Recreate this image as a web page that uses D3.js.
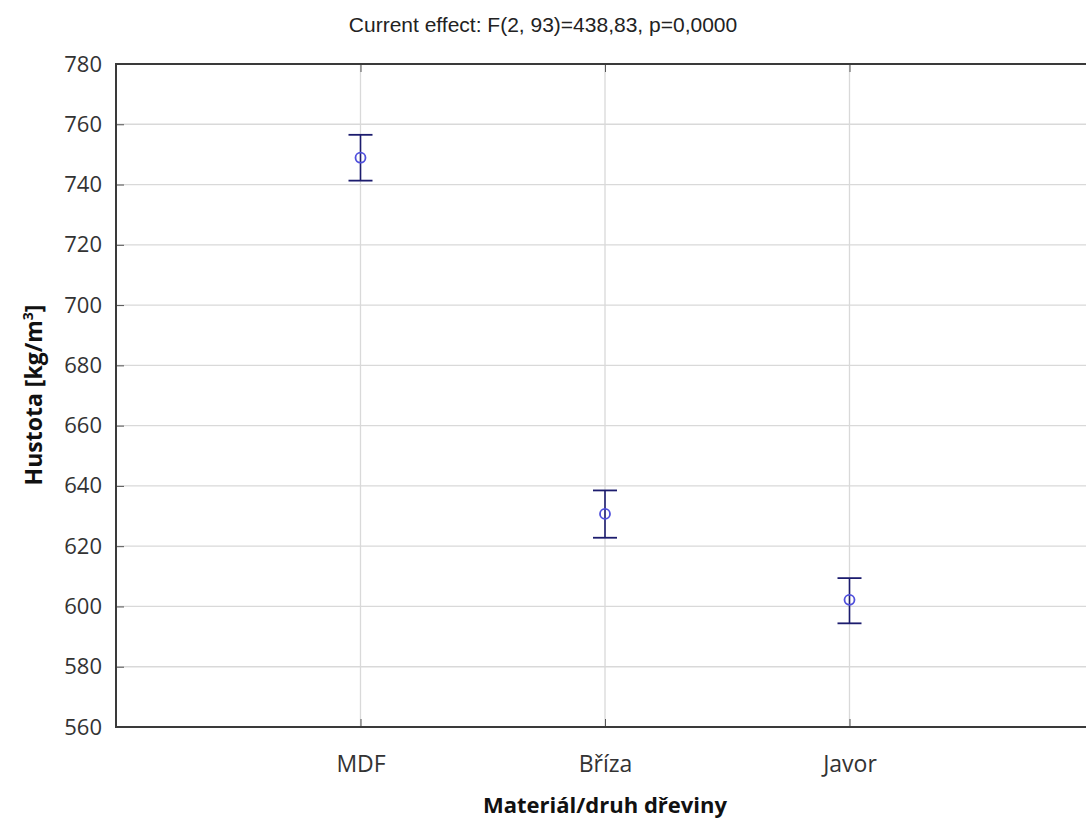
<!DOCTYPE html>
<html>
<head>
<style>
body { margin: 0; background: #fff; }
svg { display: block; }
</style>
</head>
<body>
<div id="chart"></div>
<script src="https://d3js.org/d3.v7.min.js"></script>
<script>
// data
var categories = ["MDF", "Bříza", "Javor"]
var means = [748.9, 630.7, 602.2]
var upper = [756.5, 638.5, 609.4]
var lower = [741.3, 622.8, 594.4]
var yTicks = [560, 580, 600, 620, 640, 660, 680, 700, 720, 740, 760, 780]

var width = 1086, height = 822
var margin = {top: 64, left: 116, bottom: 95}
var plotRight = 1094   // frame runs past the right edge of the picture

var svg = d3.select("#chart").append("svg")
  .attr("width", width)
  .attr("height", height)

var x = d3.scaleLinear().domain([0, 4]).range([margin.left, plotRight])
var y = d3.scaleLinear().domain([560, 780]).range([height - margin.bottom, margin.top])

// grid
svg.append("g").selectAll("line.h")
  .data(yTicks.slice(1, -1)).enter().append("line")
  .attr("x1", margin.left).attr("x2", width)
  .attr("y1", d => y(d)).attr("y2", d => y(d))
  .attr("stroke", "#d9d9d9").attr("stroke-width", 1.3)
svg.append("g").selectAll("line.v")
  .data(categories).enter().append("line")
  .attr("x1", (d, i) => x(i + 1)).attr("x2", (d, i) => x(i + 1))
  .attr("y1", y(780)).attr("y2", y(560))
  .attr("stroke", "#d9d9d9").attr("stroke-width", 1.3)

// axes with inward ticks
var yAxis = d3.axisLeft(y).tickValues(yTicks).tickSize(-8).tickPadding(14)
var gy = svg.append("g").attr("transform", "translate(" + margin.left + ",0)").call(yAxis)
gy.select(".domain").remove()
gy.selectAll(".tick line").attr("stroke", "#555")
gy.selectAll("text").style("font-family", "Open Sans").style("font-size", "22px").attr("fill", "#333")

var xAxis = d3.axisBottom(x).tickValues([1, 2, 3]).tickFormat(d => categories[d - 1]).tickSize(-8).tickPadding(29)
var gx = svg.append("g").attr("transform", "translate(0," + y(560) + ")").call(xAxis)
gx.select(".domain").remove()
gx.selectAll(".tick line").attr("stroke", "#555")
gx.selectAll("text").style("font-family", "Open Sans").style("font-size", "23px").attr("fill", "#333")

var xTop = d3.axisTop(x).tickValues([1, 2, 3]).tickSize(-8).tickFormat("")
var gt = svg.append("g").attr("transform", "translate(0," + y(780) + ")").call(xTop)
gt.select(".domain").remove()
gt.selectAll(".tick line").attr("stroke", "#555")

// frame
svg.append("path")
  .attr("d", "M" + plotRight + "," + y(780) + "H" + margin.left + "V" + y(560) + "H" + plotRight)
  .attr("fill", "none").attr("stroke", "#3a3a3a").attr("stroke-width", 2)

// error bars
var bars = svg.append("g").selectAll("g")
  .data(categories).enter().append("g")
bars.append("line")
  .attr("x1", (d, i) => x(i + 1)).attr("x2", (d, i) => x(i + 1))
  .attr("y1", (d, i) => y(upper[i])).attr("y2", (d, i) => y(lower[i]))
  .attr("stroke", "#1c1c6e").attr("stroke-width", 1.6)
bars.append("line")
  .attr("x1", (d, i) => x(i + 1) - 12).attr("x2", (d, i) => x(i + 1) + 12)
  .attr("y1", (d, i) => y(upper[i])).attr("y2", (d, i) => y(upper[i]))
  .attr("stroke", "#1c1c6e").attr("stroke-width", 1.8)
bars.append("line")
  .attr("x1", (d, i) => x(i + 1) - 12).attr("x2", (d, i) => x(i + 1) + 12)
  .attr("y1", (d, i) => y(lower[i])).attr("y2", (d, i) => y(lower[i]))
  .attr("stroke", "#1c1c6e").attr("stroke-width", 1.8)
bars.append("circle")
  .attr("cx", (d, i) => x(i + 1)).attr("cy", (d, i) => y(means[i]))
  .attr("r", 5)
  .attr("fill", "none").attr("stroke", "#5050dc").attr("stroke-width", 1.8)

// titles
svg.append("text")
  .attr("x", 543).attr("y", 32)
  .attr("text-anchor", "middle")
  .style("font-family", "Liberation Sans, Arial").style("font-size", "21px").attr("fill", "#222")
  .text("Current effect: F(2, 93)=438,83, p=0,0000")

svg.append("text")
  .attr("x", 605).attr("y", 813)
  .attr("text-anchor", "middle")
  .style("font-family", "Open Sans").style("font-size", "22px").style("font-weight", "bold").attr("fill", "#111")
  .text("Materiál/druh dřeviny")

var yl = svg.append("text")
  .attr("transform", "translate(42,395) rotate(-90)")
  .attr("text-anchor", "middle")
  .style("font-family", "Open Sans").style("font-size", "23px").style("font-weight", "bold").attr("fill", "#111")
yl.append("tspan").text("Hustota [kg/m")
yl.append("tspan").attr("dy", -9).style("font-size", "14px").text("3")
yl.append("tspan").attr("dy", 9).text("]")
</script>
</body>
</html>
